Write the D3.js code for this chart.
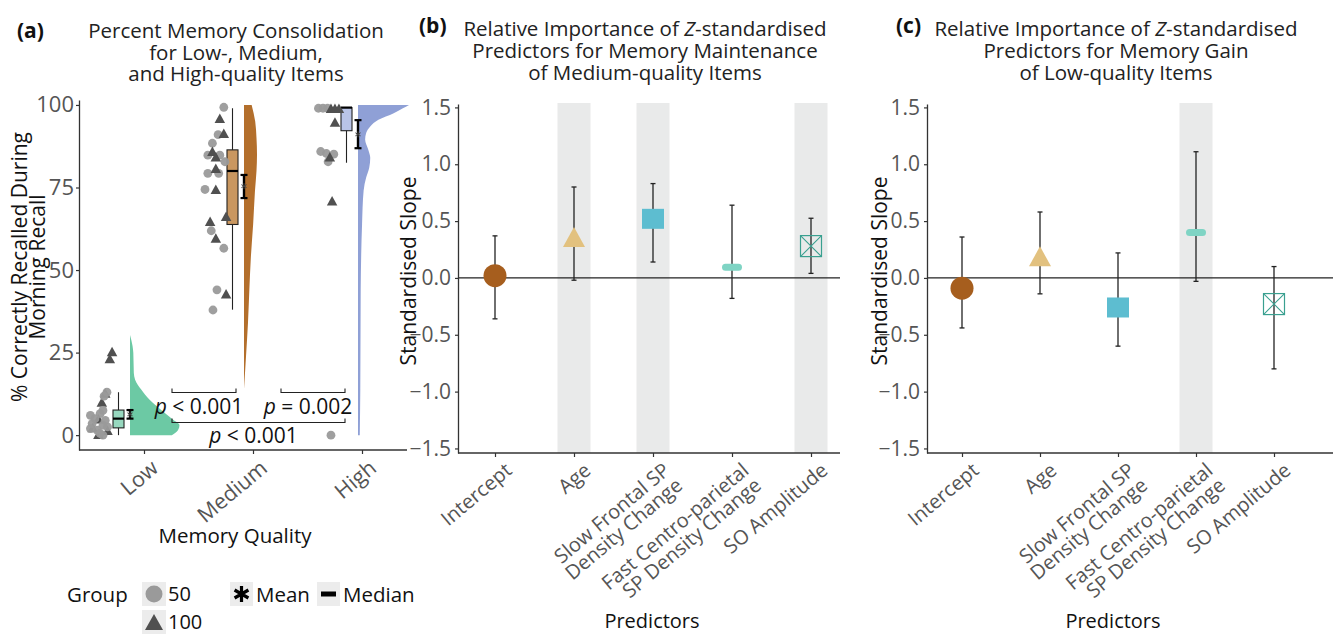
<!DOCTYPE html>
<html><head><meta charset="utf-8">
<script src="https://cdn.jsdelivr.net/npm/d3@7"></script>
<style>body{margin:0;background:#fff} svg text{font-family:"Open Sans",sans-serif}</style>
</head><body>
<svg id="chart" width="1333" height="634"></svg>
<script>
// ---------------- DATA ----------------
const qualityCats = ["Low", "Medium", "High"];
const yTicksA = [0, 25, 50, 75, 100];
const groupLabels = ["50", "100"];
// points: [value, jitter (fraction of category step), group]
const lowPoints = [
  [25.3,-0.28,"100"],[23.2,-0.30,"100"],[12.8,-0.34,"100"],[10,-0.37,"100"],[5,-0.40,"100"],
  [2.3,-0.45,"100"],[0.3,-0.40,"100"],[1.5,-0.32,"100"],
  [13,-0.325,"50"],[11.8,-0.35,"50"],[7.5,-0.36,"50"],[6.5,-0.385,"50"],[6,-0.47,"50"],
  [5,-0.43,"50"],[4.5,-0.34,"50"],[3.5,-0.455,"50"],[3,-0.36,"50"],[2.5,-0.32,"50"],
  [1.5,-0.41,"50"],[0.5,-0.385,"50"],[0,-0.36,"50"],[2,-0.47,"50"]
];
const mediumPoints = [
  [99.3,-0.30,"50"],[91,-0.35,"50"],[88.4,-0.40,"50"],[84.8,-0.44,"50"],[84.8,-0.335,"50"],
  [82.8,-0.29,"50"],[79.3,-0.44,"50"],[79.3,-0.345,"50"],[74.4,-0.465,"50"],[61.9,-0.41,"50"],
  [56.6,-0.30,"50"],[44,-0.36,"50"],[37.9,-0.395,"50"],
  [96,-0.335,"100"],[91.4,-0.30,"100"],[86,-0.40,"100"],[84.3,-0.37,"100"],[80.8,-0.37,"100"],
  [74.5,-0.37,"100"],[66.3,-0.28,"100"],[64.8,-0.42,"100"],[59.7,-0.37,"100"],[42.8,-0.28,"100"]
];
const highPoints = [
  [99,-0.47,"50"],[99,-0.43,"50"],[99,-0.39,"50"],[85.9,-0.45,"50"],[85.1,-0.335,"50"],
  [85.3,-0.40,"50"],[82.8,-0.385,"50"],[0,-0.36,"50"],
  [99,-0.36,"100"],[99,-0.325,"100"],[99,-0.29,"100"],[94.8,-0.325,"100"],[84.3,-0.37,"100"],[71,-0.35,"100"]
];
// half-violin profiles: [value, relative density]
const lowDensity = [[0,0.82],[1.5,0.94],[3,0.97],[4.7,0.84],[7.8,0.6],[10.8,0.38],[13.8,0.22],[16.8,0.1],[18.8,0.075],[24.9,0.065],[27,0.05],[30.3,0]];
const mediumDensity = [[14,0],[24,0.04],[34,0.078],[44,0.105],[54,0.135],[64,0.18],[74,0.215],[80,0.245],[85,0.255],[90,0.245],[95,0.22],[100,0.15]];
const highDensity = [[0,0.035],[14,0.045],[44,0.053],[64,0.08],[74,0.11],[78,0.16],[81,0.22],[84,0.24],[86.5,0.2],[89.5,0.14],[91.5,0.16],[93.5,0.24],[95.5,0.4],[97.5,0.7],[99,0.88],[100,1.0]];
const boxLower = [0, 38, 82.5];
const boxQ1 = [2.2, 63.8, 92.2];
const boxMedian = [5, 80, 99.2];
const boxQ3 = [7.6, 86.4, 99.2];
const boxUpper = [13, 99, 99.2];
const meanValue = [6.3, 75.4, 91.1];
const meanLower = [5, 71.8, 86.9];
const meanUpper = [7.6, 78.8, 95.4];
const compFrom = ["Low", "Medium", "Low"];
const compTo = ["Medium", "High", "High"];
const compY = [12.9, 12.9, 3.85];
const compText = [" < 0.001", " = 0.002", " < 0.001"];

const predictors = ["Intercept", "Age", "Slow Frontal SP\nDensity Change", "Fast Centro-parietal\nSP Density Change", "SO Amplitude"];
const yTicksCoef = [-1.5, -1, -0.5, 0, 0.5, 1, 1.5];
const maintEst = [0.02, 0.36, 0.52, 0.095, 0.28];
const maintLower = [-0.36, -0.02, 0.14, -0.18, 0.04];
const maintUpper = [0.37, 0.80, 0.83, 0.64, 0.525];
const maintSig = [false, true, true, false, true];
const gainEst = [-0.09, 0.19, -0.26, 0.40, -0.23];
const gainLower = [-0.44, -0.14, -0.60, -0.03, -0.80];
const gainUpper = [0.36, 0.58, 0.22, 1.11, 0.10];
const gainSig = [false, false, false, true, false];

// ---------------- STYLE ----------------
const grayTxt = "#555";
const axisCol = "#333";
const violinCol = {Low: "#6cc9a4", Medium: "#b36f2c", High: "#8fa0d6"};
const boxCol = {Low: "#97d8bf", Medium: "#c99760", High: "#b9c4e8"};
const groupCol = {"50": "#9a9a9a", "100": "#505050"};
const predShape = ["circle", "triangle", "square", "pill", "boxx"];
const predCol = ["#a65e1e", "#e2c17f", "#5dbdd0", "#7fd4c4", "#3aa090"];
const labelAngle = -40;

const svg = d3.select("#chart");

function triPath(w, h) { return `M0,${-h/2}L${w/2},${h/2}L${-w/2},${h/2}Z`; }
function asteriskPath(r) {
  let p = "";
  [0, 60, 120].forEach(a => {
    const rad = a * Math.PI / 180, dx = Math.sin(rad) * r, dy = -Math.cos(rad) * r;
    p += `M${-dx},${-dy}L${dx},${dy}`;
  });
  return p;
}
function styleAxis(g, fs) {
  g.attr("font-family", null).attr("font-size", null);
  g.select(".domain").attr("stroke", axisCol).attr("stroke-width", 1.3);
  g.selectAll(".tick line").attr("stroke", axisCol).attr("stroke-width", 1.2);
  g.selectAll(".tick text").attr("fill", grayTxt).attr("font-size", fs);
}
function rotLabels(g, dx, dy, fs) {
  g.selectAll(".tick text").each(function(d) {
    const t = d3.select(this);
    const lines = String(d).split("\n");
    t.text(null).attr("x", null).attr("y", null).attr("dy", null)
      .attr("text-anchor", "end").attr("transform", `translate(${dx},${dy}) rotate(${labelAngle})`)
      .attr("font-size", fs).attr("fill", grayTxt);
    lines.forEach((l, i) => t.append("tspan").attr("x", 0).attr("dy", i === 0 ? "0.75em" : "0.98em").text(l));
  });
}

// ---------------- PANEL A ----------------
const yA = d3.scaleLinear().domain([-4.5, 101.5]).range([450, 100]);
const xTickA = d3.scalePoint().domain(qualityCats).range([144, 362]);
const xMarkA = d3.scalePoint().domain(qualityCats).range([144, 372]);
const stepA = xMarkA.step();
const axLeftA = 79, axRightA = 407;
const gA = svg.append("g");

// violins
const wA = d3.scaleLinear().domain([0, 1]).range([0, 51]);
const densities = {Low: lowDensity, Medium: mediumDensity, High: highDensity};
qualityCats.forEach(cat => {
  const x0 = xMarkA(cat) - 14;
  const area = d3.area().y(d => yA(d[0])).x0(x0).x1(d => x0 + wA(d[1])).curve(d3.curveMonotoneY);
  gA.append("path").datum(densities[cat]).attr("d", area).attr("fill", violinCol[cat]);
});
// boxplots
qualityCats.forEach((cat, i) => {
  const cx = xMarkA(cat) - 25.5, bw = 11;
  gA.append("line").attr("x1", cx).attr("x2", cx).attr("y1", yA(boxLower[i])).attr("y2", yA(boxUpper[i]))
    .attr("stroke", "#222").attr("stroke-width", 1.1);
  gA.append("rect").attr("x", cx - bw/2).attr("width", bw)
    .attr("y", yA(boxQ3[i])).attr("height", Math.max(0.5, yA(boxQ1[i]) - yA(boxQ3[i])))
    .attr("fill", boxCol[cat]).attr("stroke", "#222").attr("stroke-width", 1.1);
  gA.append("line").attr("x1", cx - bw/2).attr("x2", cx + bw/2).attr("y1", yA(boxMedian[i])).attr("y2", yA(boxMedian[i]))
    .attr("stroke", "#000").attr("stroke-width", 2.2);
});
// mean + CI
qualityCats.forEach((cat, i) => {
  const mx = xMarkA(cat) - 14;
  gA.append("line").attr("x1", mx).attr("x2", mx).attr("y1", yA(meanLower[i])).attr("y2", yA(meanUpper[i]))
    .attr("stroke", "#000").attr("stroke-width", 2.4);
  [meanLower[i], meanUpper[i]].forEach(v => gA.append("line").attr("x1", mx - 3.5).attr("x2", mx + 3.5)
    .attr("y1", yA(v)).attr("y2", yA(v)).attr("stroke", "#000").attr("stroke-width", 2.2));
  gA.append("path").attr("d", asteriskPath(3)).attr("transform", `translate(${mx},${yA(meanValue[i])})`)
    .attr("stroke", "#444").attr("stroke-width", 1).attr("fill", "none");
});
// points
const allPoints = {Low: lowPoints, Medium: mediumPoints, High: highPoints};
qualityCats.forEach(cat => {
  allPoints[cat].forEach(p => {
    const px = xMarkA(cat) + p[1] * stepA, py = yA(p[0]);
    if (p[2] === "50") {
      gA.append("circle").attr("cx", px).attr("cy", py).attr("r", 4.4).attr("fill", groupCol["50"]).attr("fill-opacity", 0.95);
    } else {
      gA.append("path").attr("d", triPath(10.5, 9.5)).attr("transform", `translate(${px},${py})`).attr("fill", groupCol["100"]);
    }
  });
});
// significance brackets
compFrom.forEach((f, i) => {
  const x1 = xTickA(f) + 28, x2 = xTickA(compTo[i]) - 17, yy = yA(compY[i]);
  gA.append("path").attr("d", `M${x1},${yy - 4}V${yy}H${x2}V${yy - 4}`)
    .attr("fill", "none").attr("stroke", "#222").attr("stroke-width", 1.1);
  const t = gA.append("text").attr("x", (x1 + x2) / 2 - 5).attr("y", yy + 21)
    .attr("text-anchor", "middle").attr("font-size", 21).attr("fill", "#111");
  t.append("tspan").attr("font-style", "italic").text("p");
  t.append("tspan").text(compText[i]);
});
// axes
const gYA = gA.append("g").attr("transform", `translate(${axLeftA},0)`)
  .call(d3.axisLeft(yA).tickValues(yTicksA).tickSize(3).tickSizeOuter(0).tickPadding(2));
styleAxis(gYA, 22);
const gXA = gA.append("g").attr("transform", "translate(0,450)")
  .call(d3.axisBottom(xTickA).tickSize(4).tickSizeOuter(0));
gXA.select(".domain").remove();
styleAxis(gXA, 21.5);
rotLabels(gXA, 5, 8, 21.5);
gA.append("line").attr("x1", axLeftA).attr("x2", axRightA).attr("y1", 450).attr("y2", 450)
  .attr("stroke", axisCol).attr("stroke-width", 1.3);
// axis titles
const yTitleA = gA.append("text").attr("transform", "translate(27,267) rotate(-90)")
  .attr("text-anchor", "middle").attr("font-size", 21).attr("fill", "#111");
yTitleA.append("tspan").attr("x", 0).attr("dy", 0).text("% Correctly Recalled During");
yTitleA.append("tspan").attr("x", 0).attr("dy", "0.88em").text("Morning Recall");
gA.append("text").attr("x", 235).attr("y", 543).attr("text-anchor", "middle").attr("font-size", 20.5)
  .attr("fill", "#111").text("Memory Quality");
// title
gA.append("text").attr("x", 17).attr("y", 38).attr("font-size", 21).attr("font-weight", "bold")
  .attr("font-family", "Liberation Sans, Arial, sans-serif").attr("fill", "#111").text("(a)");
const tA = gA.append("text").attr("text-anchor", "middle").attr("font-size", 20.5).attr("fill", "#222");
["Percent Memory Consolidation", "for Low-, Medium,", "and High-quality Items"].forEach((l, i) =>
  tA.append("tspan").attr("x", 236).attr("y", 38 + i * 21.5).text(l));
// legend
const lg = gA.append("g");
lg.append("text").attr("x", 67).attr("y", 602).attr("font-size", 20.5).attr("fill", "#111").text("Group");
groupLabels.forEach((gl, i) => {
  const ky = 582 + i * 28;
  lg.append("rect").attr("x", 142).attr("y", ky).attr("width", 24).attr("height", 24).attr("fill", "#ececec");
  if (gl === "50") lg.append("circle").attr("cx", 154).attr("cy", ky + 12).attr("r", 8.5).attr("fill", groupCol[gl]);
  else lg.append("path").attr("d", triPath(18, 16)).attr("transform", `translate(154,${ky + 12})`).attr("fill", groupCol[gl]);
  lg.append("text").attr("x", 168).attr("y", ky + 19).attr("font-size", 20).attr("fill", "#111").text(gl);
});
lg.append("rect").attr("x", 230).attr("y", 582).attr("width", 23).attr("height", 24).attr("fill", "#ececec");
lg.append("path").attr("d", asteriskPath(8)).attr("transform", "translate(241.5,594)").attr("stroke", "#000").attr("stroke-width", 3.2);
lg.append("text").attr("x", 256).attr("y", 602).attr("font-size", 20.5).attr("fill", "#111").text("Mean");
lg.append("rect").attr("x", 317).attr("y", 582).attr("width", 23).attr("height", 24).attr("fill", "#ececec");
lg.append("rect").attr("x", 321).attr("y", 591.5).attr("width", 15).attr("height", 5).attr("fill", "#000");
lg.append("text").attr("x", 343).attr("y", 602).attr("font-size", 20.5).attr("fill", "#111").text("Median");

// ---------------- PANELS B & C ----------------
function coefPanel(cfg) {
  const g = svg.append("g");
  const y = d3.scaleLinear().domain([-1.54, 1.53]).range([453, 104]);
  const x = d3.scalePoint().domain(predictors).range(cfg.xr);
  // significance bands
  g.selectAll("rect.band").data(predictors.filter((p, i) => cfg.sig[i])).join("rect")
    .attr("class", "band").attr("x", d => x(d) - 16.5).attr("width", 33)
    .attr("y", 103).attr("height", 453 - 103).attr("fill", "#e9eaea");
  // zero line
  g.append("line").attr("x1", cfg.axisX).attr("x2", cfg.endX).attr("y1", y(0)).attr("y2", y(0))
    .attr("stroke", "#222").attr("stroke-width", 1.3);
  // error bars
  predictors.forEach((p, i) => {
    const px = x(p);
    g.append("line").attr("x1", px).attr("x2", px).attr("y1", y(cfg.lo[i])).attr("y2", y(cfg.hi[i]))
      .attr("stroke", "#222").attr("stroke-width", 1.3);
    [cfg.lo[i], cfg.hi[i]].forEach(v => g.append("line").attr("x1", px - 2.5).attr("x2", px + 2.5)
      .attr("y1", y(v)).attr("y2", y(v)).attr("stroke", "#222").attr("stroke-width", 1.3));
  });
  // estimates
  predictors.forEach((p, i) => {
    const px = x(p), py = y(cfg.est[i]), col = predCol[i];
    const s = predShape[i];
    if (s === "circle") g.append("circle").attr("cx", px).attr("cy", py).attr("r", 11.5).attr("fill", col);
    else if (s === "triangle") g.append("path").attr("d", triPath(22, 20)).attr("transform", `translate(${px},${py})`).attr("fill", col);
    else if (s === "square") g.append("rect").attr("x", px - 11).attr("y", py - 10).attr("width", 22).attr("height", 20).attr("fill", col);
    else if (s === "pill") g.append("rect").attr("x", px - 10).attr("y", py - 3.5).attr("width", 20).attr("height", 7).attr("rx", 3.5).attr("fill", col);
    else {
      g.append("rect").attr("x", px - 10.5).attr("y", py - 10.5).attr("width", 21).attr("height", 21)
        .attr("fill", "none").attr("stroke", col).attr("stroke-width", 1.2);
      g.append("path").attr("d", `M${px - 10.5},${py - 10.5}L${px + 10.5},${py + 10.5}M${px + 10.5},${py - 10.5}L${px - 10.5},${py + 10.5}`)
        .attr("stroke", col).attr("stroke-width", 1.1);
    }
  });
  // axes
  const gy = g.append("g").attr("transform", `translate(${cfg.axisX},0)`)
    .call(d3.axisLeft(y).tickValues(yTicksCoef).tickFormat(d3.format(".1f")).tickSize(3).tickSizeOuter(0).tickPadding(4));
  styleAxis(gy, 21);
  const gx = g.append("g").attr("transform", "translate(0,453)")
    .call(d3.axisBottom(x).tickSize(4).tickSizeOuter(0));
  gx.select(".domain").remove();
  styleAxis(gx, 20);
  rotLabels(gx, 8, 8, 20);
  g.append("line").attr("x1", cfg.axisX).attr("x2", cfg.endX).attr("y1", 453).attr("y2", 453)
    .attr("stroke", axisCol).attr("stroke-width", 1.3);
  // axis titles
  g.append("text").attr("transform", `translate(${cfg.yTitleX},271) rotate(-90)`).attr("text-anchor", "middle")
    .attr("font-size", 21).attr("fill", "#111").text("Standardised Slope");
  g.append("text").attr("x", cfg.xTitleX).attr("y", 628).attr("text-anchor", "middle")
    .attr("font-size", 20).attr("fill", "#111").text("Predictors");
  // titles
  g.append("text").attr("x", cfg.tagX).attr("y", 33).attr("font-size", 21).attr("font-weight", "bold")
    .attr("font-family", "Liberation Sans, Arial, sans-serif").attr("fill", "#111").text(cfg.tag);
  const t = g.append("text").attr("text-anchor", "middle").attr("font-size", 20.5).attr("fill", "#222");
  const l1 = t.append("tspan").attr("x", cfg.titleX).attr("y", 36);
  l1.append("tspan").text("Relative Importance of ");
  l1.append("tspan").attr("font-style", "italic").text("Z");
  l1.append("tspan").text("-standardised");
  cfg.titleLines.forEach((l, i) => t.append("tspan").attr("x", cfg.titleX).attr("y", 58 + i * 22).text(l));
}
coefPanel({xr: [495, 811], axisX: 458, endX: 840, est: maintEst, lo: maintLower, hi: maintUpper, sig: maintSig,
  yTitleX: 416, xTitleX: 652, tag: "(b)", tagX: 419, titleX: 645,
  titleLines: ["Predictors for Memory Maintenance", "of Medium-quality Items"]});
coefPanel({xr: [962, 1274], axisX: 927, endX: 1333, est: gainEst, lo: gainLower, hi: gainUpper, sig: gainSig,
  yTitleX: 887, xTitleX: 1113, tag: "(c)", tagX: 896, titleX: 1116,
  titleLines: ["Predictors for Memory Gain", "of Low-quality Items"]});
</script>
</body></html>
